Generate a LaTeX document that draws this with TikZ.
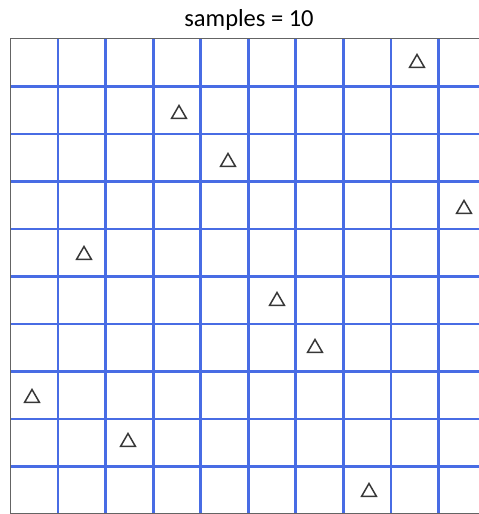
\documentclass[tikz,border=0pt]{standalone}
\usepackage{fontspec}
\setmainfont{Carlito}
\usepackage{tikz}
\usetikzlibrary{shapes.geometric}
\definecolor{gridblue}{RGB}{72,108,228}
\definecolor{rimgray}{RGB}{100,100,100}
\definecolor{markgray}{RGB}{55,55,55}

\begin{document}
\begin{tikzpicture}[x=1pt, y=-1pt,
                    gridline/.style = {gridblue, line width=2.8pt},
                    rimline/.style = {rimgray, line width=1.5pt},
                    sample/.style = {draw=markgray, line width=1.5pt, regular polygon, regular polygon sides=3,
                                     inner sep=0pt, minimum size=17pt}]
                \useasboundingbox (0,0) rectangle (479,514);
                \clip (0,0) rectangle (479,514);
                \node [font=\fontsize{24.5}{28}\selectfont, inner sep=0pt] (title) at (249,20) {samples = 10};
                % grid of 10 x 10 cells
                \foreach \k in {1,2,...,9} {
                  \draw [gridline] (10.5+47.55*\k,39) -- (10.5+47.55*\k,514);
                  \draw [gridline] (10.5,39+47.5*\k) -- (479,39+47.5*\k);
                }
                \draw [rimline] (486,38.5) -- (10.5,38.5) -- (10.5,513.3) -- (486,513.3);
                % one sample per row and per column
                \foreach \x/\y [count=\i] in {417/63, 179/114, 228/162, 464/209, 84/255,
                                              277/301, 315/348, 32/398, 128/442, 369/492} {
                  \node [sample] (s\i) at (\x,\y) {};
                }
            \end{tikzpicture}
\end{document}
